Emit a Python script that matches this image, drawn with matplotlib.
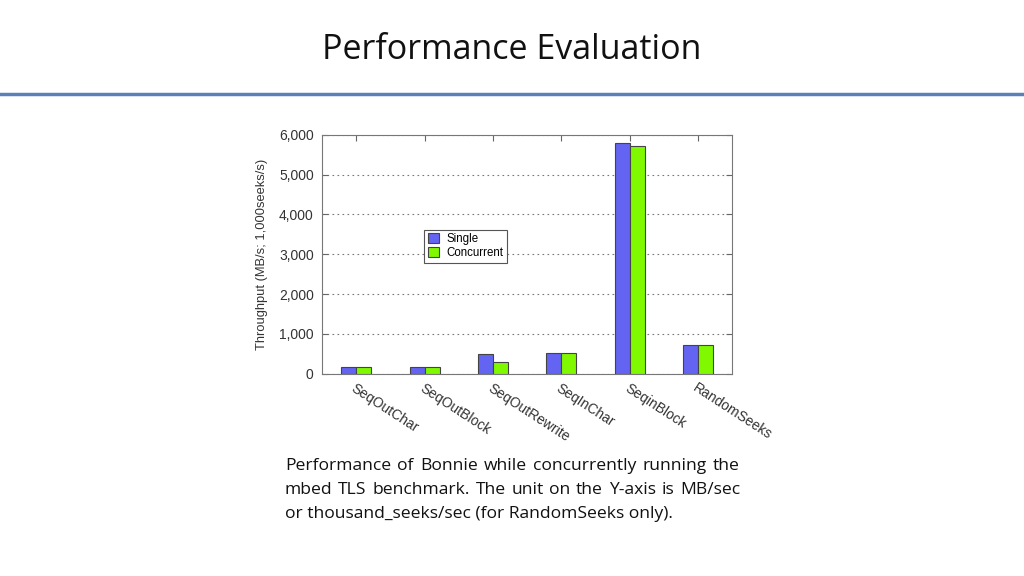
import numpy as np
import matplotlib.pyplot as plt
from matplotlib.lines import Line2D

categories = ["SeqOutChar", "SeqOutBlock", "SeqOutRewrite", "SeqInChar", "SeqinBlock", "RandomSeeks"]
single = [160, 160, 500, 520, 5800, 720]
concurrent = [160, 160, 290, 520, 5730, 720]
yticks = [0, 1000, 2000, 3000, 4000, 5000, 6000]

fig = plt.figure(figsize=(10.24, 5.76), dpi=100)

# slide title and rule
fig.text(0.5, 0.913, "Performance Evaluation", ha="center", va="center",
         fontsize=24.5, family="Open Sans", color="#111111")
fig.add_artist(Line2D([0, 1], [0.836, 0.836], color="#5b80b8", lw=2.5))

ax = fig.add_axes([0.3145, 0.351, 0.4005, 0.415])
x = np.arange(len(categories))
w = 0.22
ax.bar(x - w / 2, single, w, color="#6464f2", edgecolor="#444444", lw=0.8, label="Single", zorder=3)
ax.bar(x + w / 2, concurrent, w, color="#80f800", edgecolor="#444444", lw=0.8, label="Concurrent", zorder=3)

ax.set_xlim(-0.5, 5.5)
ax.set_ylim(0, 6000)
ax.set_yticks(yticks)
ax.set_yticklabels(["{:,}".format(v) for v in yticks], fontsize=10, family="Liberation Sans", color="#333333")
ax.set_xticks(x)
ax.set_xticklabels(categories, rotation=-33, ha="left", rotation_mode="anchor",
                   fontsize=10, family="Liberation Sans", color="#333333")
ax.tick_params(axis="both", direction="in", top=True, right=True, length=4, color="#666666")
ax.tick_params(axis="x", pad=5)
ax.tick_params(axis="y", pad=6)
ax.grid(axis="y", linestyle=(0, (1.5, 3)), color="#777777", lw=0.8, zorder=0)
for s in ax.spines.values():
    s.set_color("#777777")
    s.set_linewidth(0.8)
ax.set_ylabel("Throughput (MB/s; 1,000seeks/s)", fontsize=9.3, family="Liberation Sans",
              color="#333333", labelpad=8)

leg = ax.legend(loc="upper left", bbox_to_anchor=(0.249, 0.603), borderaxespad=0,
                prop={"family": "Liberation Sans", "size": 8.3}, fancybox=False,
                handlelength=1.0, handleheight=1.0, borderpad=0.3, labelspacing=0.15,
                handletextpad=0.6, framealpha=1)
leg.get_frame().set_edgecolor("#555555")
leg.get_frame().set_linewidth(0.8)

# justified caption
caption = ["Performance of Bonnie while concurrently running the",
           "mbed TLS benchmark. The unit on the Y-axis is MB/sec",
           "or thousand_seeks/sec (for RandomSeeks only)."]
left, right = 285, 740
renderer = fig.canvas.get_renderer()
for i, line in enumerate(caption):
    yy = 0.1905 - i * 0.0415
    words = line.split()
    if i == len(caption) - 1:
        fig.text(left / 1024, yy, line, ha="left", va="center",
                 fontsize=12.6, family="Open Sans", color="#111111")
        continue
    arts = [fig.text(0, yy, wd, ha="left", va="center", fontsize=12.6,
                     family="Open Sans", color="#111111") for wd in words]
    widths = [a.get_window_extent(renderer).width for a in arts]
    gap = (right - left - sum(widths)) / (len(words) - 1)
    pos = left
    for a, wdt in zip(arts, widths):
        a.set_x(pos / 1024)
        pos += wdt + gap

fig.savefig("out.png", dpi=100)
